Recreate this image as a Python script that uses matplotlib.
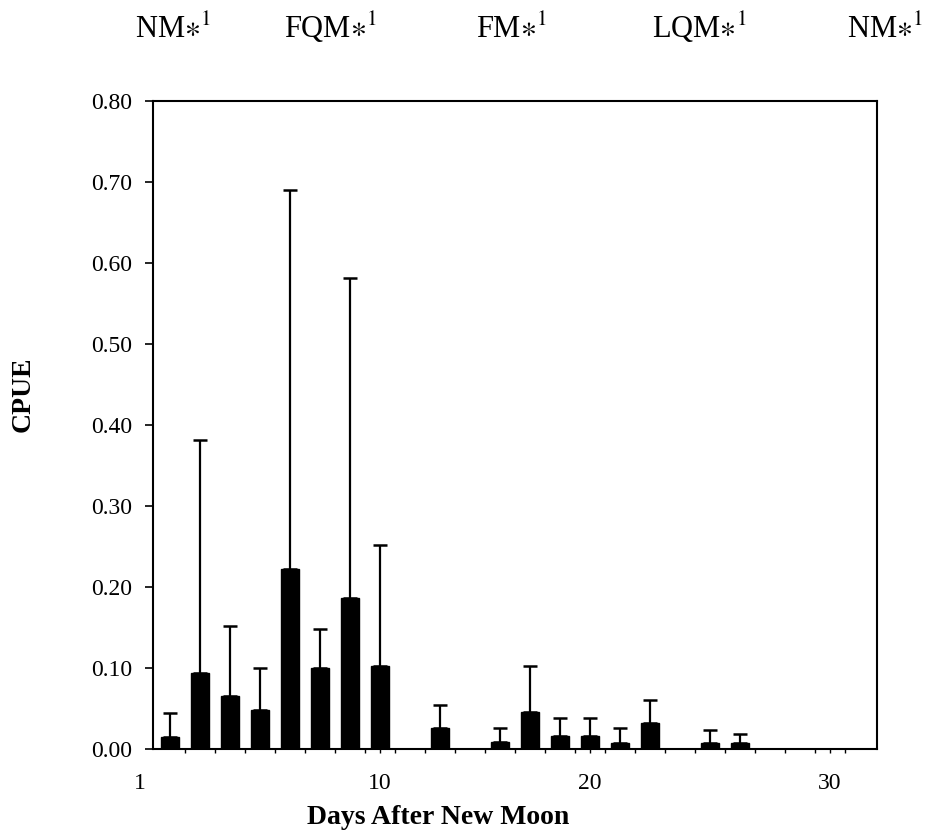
import matplotlib.pyplot as plt
import numpy as np

plt.rcParams["font.family"] = ["Liberation Serif", "DejaVu Serif"]
plt.rcParams["mathtext.fontset"] = "stix"

# mean CPUE per sampling slot across the lunar cycle, and top of the error bar
cpue_mean = [0.015, 0.094, 0.065, 0.048, 0.222, 0.100, 0.187, 0.103,
             0.0, 0.026, 0.0, 0.009, 0.046, 0.016, 0.016, 0.008,
             0.032, 0.0, 0.008, 0.008, 0.0, 0.0, 0.0, 0.0]
cpue_upper = [0.045, 0.381, 0.152, 0.100, 0.690, 0.148, 0.581, 0.252,
              0.0, 0.054, 0.0, 0.026, 0.102, 0.038, 0.038, 0.026,
              0.060, 0.0, 0.023, 0.019, 0.0, 0.0, 0.0, 0.0]
day_labels = ["1", "10", "20", "30"]
day_label_slots = [-1, 7, 14, 22]
phase_labels = ["NM", "FQM", "FM", "LQM", "NM"]
phase_x_px = [173, 330, 511, 699, 885]

W, H = 929, 839
fig = plt.figure(figsize=(W / 100, H / 100), dpi=100)
ax = fig.add_axes([153 / W, 1 - 749 / H, (877 - 153) / W, (749 - 101) / H])

x = np.arange(len(cpue_mean))
mean = np.array(cpue_mean)
upper = np.array(cpue_upper)
err = np.clip(upper - mean, 0, None)
has_err = err > 0

ax.bar(x, mean, width=0.6, color="black", edgecolor="black", zorder=2)
ax.errorbar(x[has_err], mean[has_err],
            yerr=[np.zeros(has_err.sum()), err[has_err]],
            fmt="none", ecolor="black", elinewidth=1.6, capsize=5,
            capthick=1.8, zorder=3)

ax.set_xlim(-0.55, 23.58)
ax.set_ylim(0, 0.8)

ax.set_yticks(np.arange(0, 0.81, 0.1))
ax.set_yticklabels([f"{v:.2f}" for v in np.arange(0, 0.81, 0.1)], fontsize=17)
ax.tick_params(axis="y", direction="out", length=6, width=1.2, pad=9)

ax.set_xticks(day_label_slots[1:])
ax.set_xticklabels(day_labels[1:], fontsize=17)
ax.set_xticks(np.arange(0.5, 23.5, 1.0), minor=True)
ax.tick_params(axis="x", which="both", direction="out", length=3, width=1,
               pad=14)
# the "1" label sits left of the axis box, outside the view limits
ax.annotate(day_labels[0], xy=(day_label_slots[0], 0),
            xycoords=("data", "axes fraction"), xytext=(0, -17.5),
            textcoords="offset points", ha="center", va="top",
            fontsize=17, annotation_clip=False)

for s in ax.spines.values():
    s.set_linewidth(1.5)

fig.text(23 / W, 1 - 394 / H, "CPUE", rotation=90, fontsize=20,
         fontweight="bold", ha="center", va="center")
fig.text(438 / W, 1 - 817 / H, "Days After New Moon", fontsize=20,
         fontweight="bold", ha="center", va="center")

for lbl, px in zip(phase_labels, phase_x_px):
    fig.text(px / W, 1 - 38 / H, lbl + r"$\ast^{1}$", fontsize=22,
             ha="center", va="baseline")

fig.savefig("out.png", dpi=100)
